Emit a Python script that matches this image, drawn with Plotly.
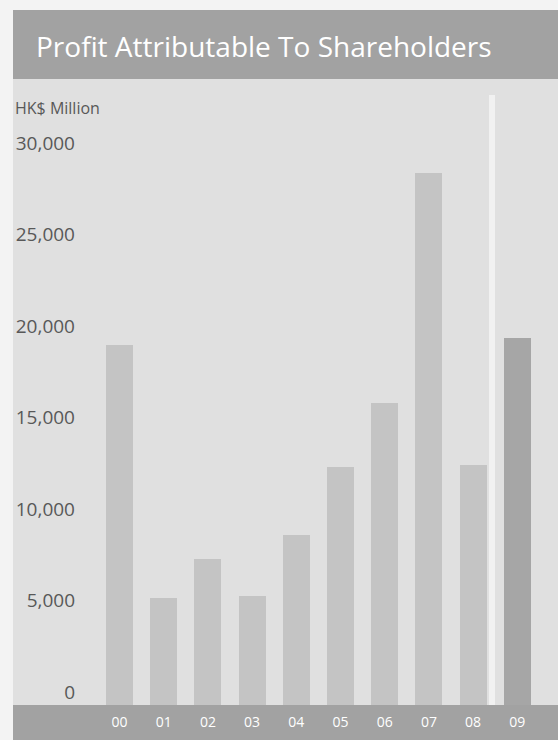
import plotly.graph_objects as go

# ---- data ----
years = ["00", "01", "02", "03", "04", "05", "06", "07", "08", "09"]
profit = [18960, 5140, 7270, 5250, 8580, 12300, 15800, 28360, 12400, 19340]
y_ticks = [0, 5000, 10000, 15000, 20000, 25000, 30000]
y_tick_text = ["0", "5,000", "10,000", "15,000", "20,000", "25,000", "30,000"]
title_text = "Profit Attributable To Shareholders"
unit_text = "HK$ Million"

# ---- style ----
W, H = 558, 740
ML, MR, MT, MB = 82, 0, 85, 35
PANEL = "#e0e0e0"
BAR = "#c4c4c4"
BAR_LAST = "#a6a6a6"
BAND = "#a2a2a2"
TEXT = "#585858"
FONT = "Open Sans"
BAR_BASE = -710  # bars run slightly below zero into the bottom band

pw = W - ML - MR
ph = H - MT - MB


def px_x(p):
    return (p - ML) / pw


def px_y(p):
    return (H - MB - p) / ph


colors = [BAR] * (len(years) - 1) + [BAR_LAST]
xs = list(range(len(years)))

fig = go.Figure(
    go.Bar(
        x=xs,
        y=[v - BAR_BASE for v in profit],
        base=BAR_BASE,
        width=0.61,
        marker=dict(color=colors, line=dict(width=0)),
        customdata=profit,
        hovertemplate="%{customdata:,}<extra></extra>",
    )
)

fig.update_layout(
    width=W,
    height=H,
    margin=dict(l=ML, r=MR, t=MT, b=MB, pad=0),
    paper_bgcolor="#f3f3f3",
    plot_bgcolor=PANEL,
    showlegend=False,
    font=dict(family=FONT, color=TEXT),
    bargap=0,
    xaxis=dict(
        range=[-0.848, 9.921],
        tickvals=xs,
        ticktext=years,
        showgrid=False,
        zeroline=False,
        showline=False,
        ticks="",
        tickfont=dict(size=14, color="white", family=FONT),
        ticklabelstandoff=7,
        fixedrange=True,
    ),
    yaxis=dict(
        range=[-710, 33169],
        tickvals=y_ticks,
        ticktext=y_tick_text,
        showgrid=False,
        zeroline=False,
        showline=False,
        ticks="",
        tickfont=dict(size=19, color=TEXT, family=FONT),
        ticklabelstandoff=6,
        fixedrange=True,
    ),
    shapes=[
        # panel background
        dict(type="rect", xref="paper", yref="paper", x0=px_x(13), x1=1.0,
             y0=px_y(740), y1=px_y(10), fillcolor=PANEL, line=dict(width=0), layer="below"),
        # title band
        dict(type="rect", xref="paper", yref="paper", x0=px_x(13), x1=1.0,
             y0=px_y(79), y1=px_y(10), fillcolor=BAND, line=dict(width=0), layer="below"),
        # bottom band
        dict(type="rect", xref="paper", yref="paper", x0=px_x(13), x1=1.0,
             y0=px_y(740), y1=0, fillcolor=BAND, line=dict(width=0), layer="below"),
        # faint separator strip before the last year
        dict(type="rect", xref="paper", yref="paper", x0=px_x(489), x1=px_x(495),
             y0=0, y1=px_y(95), fillcolor="#f1f1f1", line=dict(width=0), layer="below"),
    ],
    annotations=[
        dict(text=title_text, xref="paper", yref="paper", x=px_x(34), y=px_y(46),
             xanchor="left", yanchor="middle", showarrow=False,
             font=dict(size=28, color="white", family=FONT)),
        dict(text=unit_text, xref="paper", yref="paper", x=px_x(13), y=px_y(108),
             xanchor="left", yanchor="middle", showarrow=False,
             font=dict(size=16, color=TEXT, family=FONT)),
    ],
)

fig.write_html("out.html", config={"displayModeBar": False})
